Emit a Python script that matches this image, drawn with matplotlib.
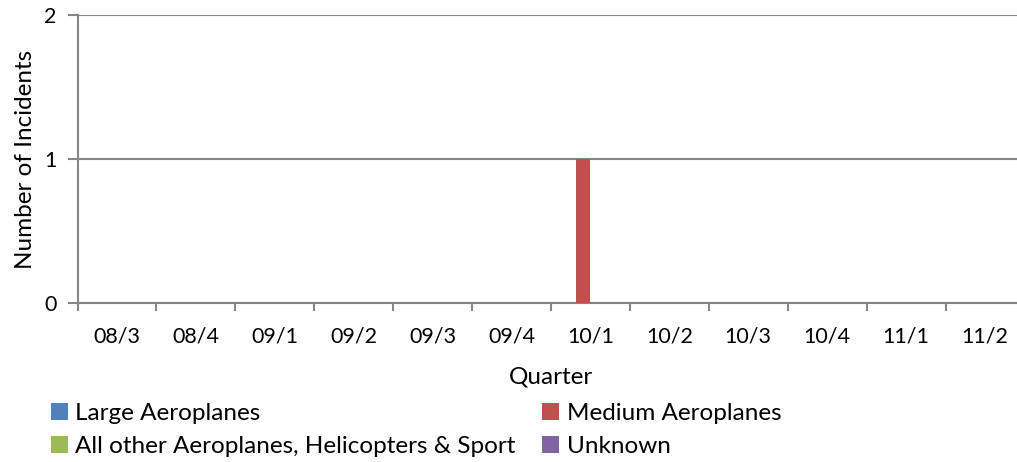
import numpy as np
import matplotlib.pyplot as plt

quarters = ["08/3", "08/4", "09/1", "09/2", "09/3", "09/4",
            "10/1", "10/2", "10/3", "10/4", "11/1", "11/2"]
large = [0, 0, 0, 0, 0, 0, 0, 0, 0, 0, 0, 0]
medium = [0, 0, 0, 0, 0, 0, 1, 0, 0, 0, 0, 0]
other = [0, 0, 0, 0, 0, 0, 0, 0, 0, 0, 0, 0]
unknown = [0, 0, 0, 0, 0, 0, 0, 0, 0, 0, 0, 0]

series = [
    ("Large Aeroplanes", large, "#4F81BD"),
    ("Medium Aeroplanes", medium, "#C0504D"),
    ("All other Aeroplanes, Helicopters & Sport", other, "#9BBB59"),
    ("Unknown", unknown, "#8064A2"),
]

plt.rcParams['font.family'] = ['Lato', 'DejaVu Sans']
grey = "#868686"

fig = plt.figure(figsize=(10.17, 4.62), dpi=100)
ax = fig.add_axes([0.0763, 0.344, 0.931, 0.623])

x = np.arange(len(quarters))
w = 0.187
handles = {}
for i, (name, vals, col) in enumerate(series):
    b = ax.bar(x + (i - 1.5) * w, vals, w, color=col, linewidth=0, label=name, zorder=3)
    handles[name] = b

ax.set_xlim(-0.5, len(quarters) - 0.5)
ax.set_ylim(0, 2)
ax.set_yticks([0, 1, 2])
ax.yaxis.grid(True, color=grey, linewidth=1.5, zorder=1)
ax.set_axisbelow(True)

ax.set_xticks(x)
ax.set_xticklabels(quarters, fontsize=15.5)
ax.set_xticks(np.arange(-0.5, len(quarters), 1), minor=True)
ax.tick_params(axis='x', which='major', length=0, pad=17)
ax.tick_params(axis='x', which='minor', length=6, width=1.5, color=grey)
ax.tick_params(axis='y', length=7, width=1.5, color=grey, labelsize=15.5, pad=8)

for s in ["top", "right"]:
    ax.spines[s].set_visible(False)
for s in ["left", "bottom"]:
    ax.spines[s].set_color(grey)
    ax.spines[s].set_linewidth(1.5)

ax.set_xlabel("Quarter", fontsize=17.5, labelpad=14)
ax.set_ylabel("Number of Incidents", fontsize=17.5, labelpad=6)

order = ["Large Aeroplanes", "All other Aeroplanes, Helicopters & Sport",
         "Medium Aeroplanes", "Unknown"]
fig.legend([handles[n] for n in order], order, ncol=2, loc="upper left",
           bbox_to_anchor=(0.05, 0.128), frameon=False, fontsize=17.5,
           handlelength=0.7, handleheight=0.7, handletextpad=0.3,
           columnspacing=1.1, labelspacing=0.5, borderaxespad=0,
           borderpad=0)

fig.savefig("out.png", dpi=100)
